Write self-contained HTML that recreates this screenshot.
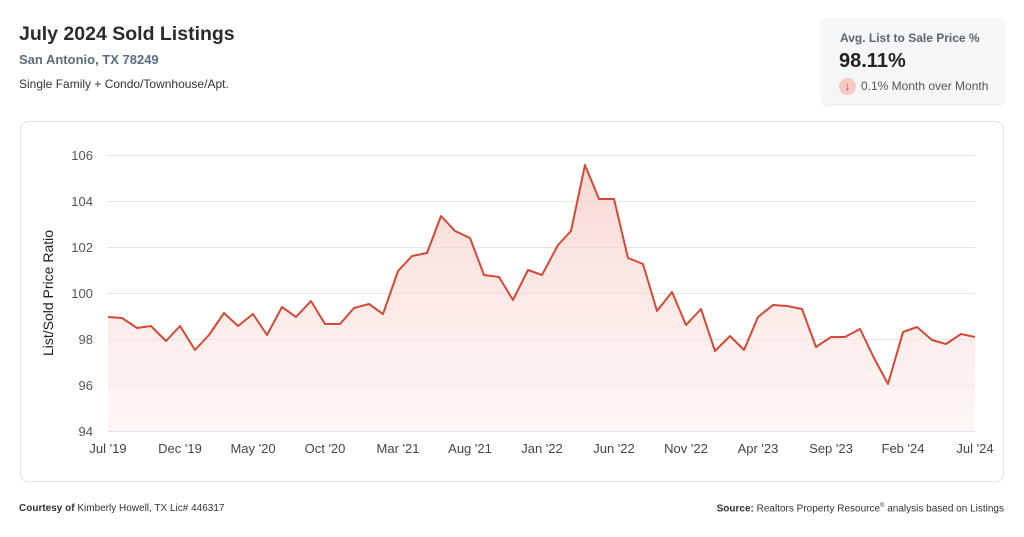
<!DOCTYPE html>
<html><head><meta charset="utf-8"><style>
body{margin:0;width:1024px;height:537px;background:#fff;font-family:"Liberation Sans",sans-serif;position:relative;overflow:hidden}
.a{position:absolute;white-space:nowrap}
</style></head><body>
<div class="a" style="left:19px;top:23px;font-size:19.5px;font-weight:bold;color:#2b2b2b">July 2024 Sold Listings</div>
<div class="a" style="left:19px;top:52px;font-size:13px;font-weight:bold;color:#5b6b80">San Antonio, TX 78249</div>
<div class="a" style="left:19px;top:77px;font-size:12px;color:#333">Single Family + Condo/Townhouse/Apt.</div>
<div class="a" style="left:822px;top:18px;width:182px;height:86px;background:#f5f6f8;border-radius:6px;box-shadow:0 1px 3px rgba(0,0,0,0.12)"></div>
<div class="a" style="left:840px;top:31px;font-size:12px;font-weight:bold;color:#5b6473">Avg. List to Sale Price %</div>
<div class="a" style="left:839px;top:50px;font-size:20px;font-weight:bold;color:#222">98.11%</div>
<div class="a" style="left:839px;top:78px;width:17px;height:17px;border-radius:50%;background:#f6c9c2;color:#d24a35;font-size:12px;text-align:center;line-height:17px">↓</div>
<div class="a" style="left:861px;top:79px;font-size:12px;color:#555">0.1% Month over Month</div>
<div class="a" style="left:20px;top:121px;width:982px;height:359px;border:1px solid #dfe3e3;border-radius:8px"></div>
<svg class="a" style="left:0;top:0" width="1024" height="537">
<defs><linearGradient id="g" gradientUnits="userSpaceOnUse" x1="0" y1="165" x2="0" y2="431"><stop offset="0" stop-color="#f5cbc4" stop-opacity="0.75"/><stop offset="1" stop-color="#fbeeec" stop-opacity="0.5"/></linearGradient></defs>
<g stroke="#e4e4e4" stroke-width="1">
<line x1="108" x2="975" y1="155.5" y2="155.5"/><line x1="108" x2="975" y1="201.5" y2="201.5"/><line x1="108" x2="975" y1="247.5" y2="247.5"/><line x1="108" x2="975" y1="293.5" y2="293.5"/><line x1="108" x2="975" y1="339.5" y2="339.5"/><line x1="108" x2="975" y1="385.5" y2="385.5"/><line x1="108" x2="975" y1="431.5" y2="431.5"/>
</g>
<g font-size="13" fill="#555" text-anchor="end">
<text x="93" y="160">106</text><text x="93" y="206">104</text><text x="93" y="252">102</text><text x="93" y="298">100</text><text x="93" y="344">98</text><text x="93" y="390">96</text><text x="93" y="436">94</text>
</g>
<text transform="translate(53,293) rotate(-90)" font-size="14" fill="#222" text-anchor="middle">List/Sold Price Ratio</text>
<g font-size="13" fill="#444" text-anchor="middle">
<text x="108" y="453">Jul '19</text><text x="180" y="453">Dec '19</text><text x="253" y="453">May '20</text><text x="325" y="453">Oct '20</text><text x="398" y="453">Mar '21</text><text x="470" y="453">Aug '21</text><text x="542" y="453">Jan '22</text><text x="614" y="453">Jun '22</text><text x="686" y="453">Nov '22</text><text x="758" y="453">Apr '23</text><text x="831" y="453">Sep '23</text><text x="903" y="453">Feb '24</text><text x="975" y="453">Jul '24</text>
</g>
<path fill="url(#g)" d="M108,431 L108,317 122,318 137,328 151,326 166,341 180,326 195,350 209,335 224,313 238,326 253,314 267,335 282,307 296,317 311,301 325,324 340,324 354,308 369,304 383,314 398,271 412,256 427,253 441,216 455,231 470,238 484,275 499,277 513,300 528,270 542,275 558,245 571,231 585,165 599,199 614,199 628,258 643,264 657,311 672,292 686,325 701,309 715,351 730,336 744,350 758,317 773,305 787,306 802,309 816,347 831,337 845,337 860,329 874,358 888,384 903,332 917,327 932,340 946,344 961,334 975,337 L975,431 Z"/>
<polyline fill="none" stroke="#d24a35" stroke-width="2" stroke-linejoin="round" points="108,317 122,318 137,328 151,326 166,341 180,326 195,350 209,335 224,313 238,326 253,314 267,335 282,307 296,317 311,301 325,324 340,324 354,308 369,304 383,314 398,271 412,256 427,253 441,216 455,231 470,238 484,275 499,277 513,300 528,270 542,275 558,245 571,231 585,165 599,199 614,199 628,258 643,264 657,311 672,292 686,325 701,309 715,351 730,336 744,350 758,317 773,305 787,306 802,309 816,347 831,337 845,337 860,329 874,358 888,384 903,332 917,327 932,340 946,344 961,334 975,337"/>
</svg>
<div class="a" style="left:19px;top:503px;font-size:10px;color:#333"><b>Courtesy of</b> Kimberly Howell, TX Lic# 446317</div>
<div class="a" style="right:20px;top:503px;font-size:10px;color:#333"><b>Source:</b> Realtors Property Resource<sup style="font-size:6px">®</sup> analysis based on Listings</div>
</body></html>
